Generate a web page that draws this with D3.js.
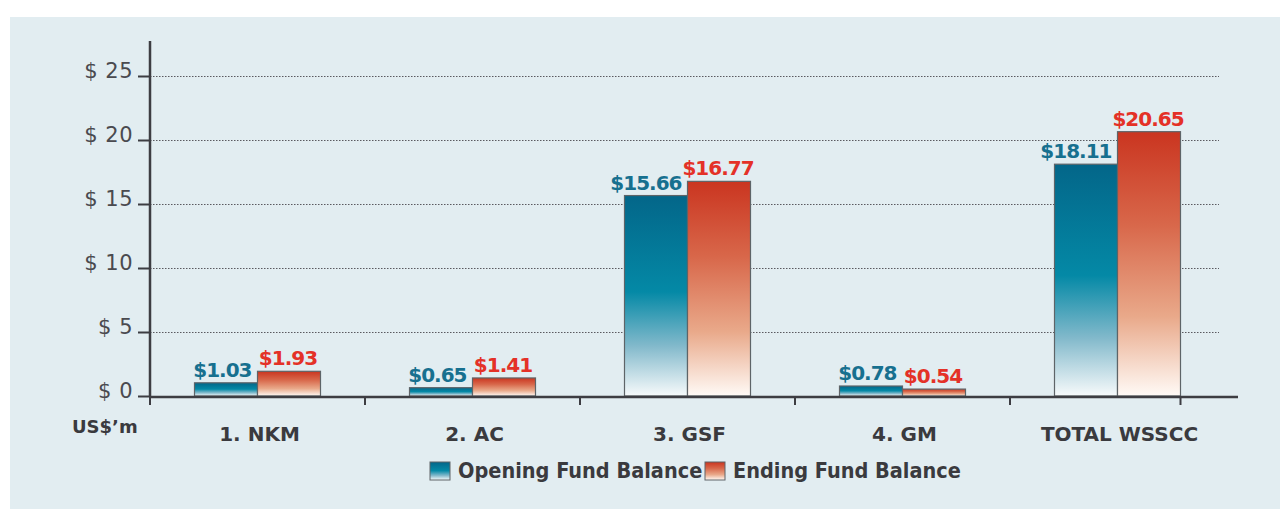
<!DOCTYPE html>
<html lang="en">
<head>
<meta charset="UTF-8">
<title>Fund Balance</title>
<script src="https://d3js.org/d3.v7.min.js"></script>
<style>
  body { margin: 0; background: #fff; }
  svg text { font-family: "DejaVu Sans", "Liberation Sans", Arial, sans-serif; }
</style>
</head>
<body>
<script>

// ================== DATA ==================
var categories = ["1. NKM", "2. AC", "3. GSF", "4. GM", "TOTAL WSSCC"];
var seriesNames = ["Opening Fund Balance", "Ending Fund Balance"];
var opening = [1.03, 0.65, 15.66, 0.78, 18.11];
var ending = [1.93, 1.41, 16.77, 0.54, 20.65];
var yTicks = [0, 5, 10, 15, 20, 25];

// ================== CANVAS ==================
var w = 1280, h = 509;
var svg = d3.select("body").append("svg")
    .attr("width", w)
    .attr("height", h);

svg.append("rect")
    .attr("x", 10).attr("y", 17)
    .attr("width", w - 10).attr("height", h - 17)
    .attr("fill", "#e2edf1");

// gradients
var defs = svg.append("defs");
var gBlue = defs.append("linearGradient").attr("id", "gBlue")
    .attr("x1", 0).attr("y1", 0).attr("x2", 0).attr("y2", 1);
gBlue.append("stop").attr("offset", "0%").attr("stop-color", "#036689");
gBlue.append("stop").attr("offset", "48%").attr("stop-color", "#0489a6");
gBlue.append("stop").attr("offset", "75%").attr("stop-color", "#82b9cb");
gBlue.append("stop").attr("offset", "100%").attr("stop-color", "#f7fafb");

var gRed = defs.append("linearGradient").attr("id", "gRed")
    .attr("x1", 0).attr("y1", 0).attr("x2", 0).attr("y2", 1);
gRed.append("stop").attr("offset", "0%").attr("stop-color", "#ca3520");
gRed.append("stop").attr("offset", "35%").attr("stop-color", "#d8674a");
gRed.append("stop").attr("offset", "70%").attr("stop-color", "#e9a98a");
gRed.append("stop").attr("offset", "100%").attr("stop-color", "#fffaf6");

var fills = ["url(#gBlue)", "url(#gRed)"];
var labelColors = ["#17708f", "#e43127"];

// ================== SCALES ==================
var x = d3.scaleBand().domain(categories).range([150, 1225]);
var xSub = d3.scaleBand().domain(seriesNames).range([-63, 63]);
var y = d3.scaleLinear().domain([0, 25]).range([396, 76]);

// grid lines
var grid = svg.append("g")
    .attr("transform", "translate(150,0)")
    .call(d3.axisLeft(y).tickValues(yTicks.slice(1)).tickSize(-1069).tickFormat(""));
grid.select(".domain").remove();
grid.selectAll("line")
    .attr("stroke", "#5a5a60")
    .attr("stroke-width", 1.2)
    .attr("stroke-dasharray", "1.5,1.5");

// y axis
var yAxis = svg.append("g")
    .attr("transform", "translate(150,0)")
    .call(d3.axisLeft(y).tickValues(yTicks).tickSize(12).tickPadding(5)
        .tickFormat(function(d){ return "$ " + d; }));
yAxis.select(".domain").remove();
yAxis.selectAll("line").attr("stroke", "#3d3d42").attr("stroke-width", 2);
yAxis.selectAll("text")
    .attr("dy", "1")
    .attr("fill", "#4a4a4f")
    .style("font-size", "21px")
    .style("letter-spacing", "0.5px")
    .style("font-family", "'DejaVu Sans', sans-serif");

svg.append("line")
    .attr("x1", 150).attr("x2", 150)
    .attr("y1", 41).attr("y2", 397)
    .attr("stroke", "#3d3d42").attr("stroke-width", 2.5);

// ================== BARS ==================
var rows = categories.map(function(c, i){
    return [
        { cat: c, key: seriesNames[0], value: opening[i], s: 0 },
        { cat: c, key: seriesNames[1], value: ending[i], s: 1 }
    ];
});

var groups = svg.selectAll(".grp")
    .data(rows)
    .enter().append("g")
    .attr("class", "grp")
    .attr("transform", function(d){
        return "translate(" + (x(d[0].cat) + x.bandwidth() / 2) + ",0)";
    });

groups.selectAll("rect")
    .data(function(d){ return d; })
    .enter().append("rect")
    .attr("x", function(d){ return xSub(d.key); })
    .attr("width", xSub.bandwidth())
    .attr("y", function(d){ return y(d.value); })
    .attr("height", function(d){ return y(0) - y(d.value); })
    .attr("fill", function(d){ return fills[d.s]; })
    .attr("stroke", "#5e6468")
    .attr("stroke-width", 1.2);

// opening labels end just left of the ending bar, ending labels centred
groups.selectAll(".val")
    .data(function(d){ return d; })
    .enter().append("text")
    .attr("class", "val")
    .attr("x", function(d){
        return d.s === 0 ? xSub(d.key) + xSub.bandwidth() - 6
                         : xSub(d.key) + xSub.bandwidth() / 2 - 1;
    })
    .attr("y", function(d){ return y(d.value) - 6; })
    .attr("text-anchor", function(d){ return d.s === 0 ? "end" : "middle"; })
    .attr("fill", function(d){ return labelColors[d.s]; })
    .style("font-size", "20px")
    .style("font-weight", "bold")
    .style("letter-spacing", "-1px")
    .text(function(d){ return "$" + d.value.toFixed(2); });

// ================== X AXIS ==================
svg.append("line")
    .attr("x1", 150).attr("x2", 1238)
    .attr("y1", 397).attr("y2", 397)
    .attr("stroke", "#3d3d42").attr("stroke-width", 2.5);

var tickXs = categories.map(function(c){ return x(c); });
tickXs.push(x(categories[categories.length - 1]) + x.bandwidth() / 2 + xSub.range()[1]);
svg.selectAll(".xtick")
    .data(tickXs)
    .enter().append("line")
    .attr("class", "xtick")
    .attr("x1", function(d){ return d; }).attr("x2", function(d){ return d; })
    .attr("y1", 397).attr("y2", 405)
    .attr("stroke", "#3d3d42").attr("stroke-width", 2);

svg.selectAll(".xlab")
    .data(categories)
    .enter().append("text")
    .attr("class", "xlab")
    .attr("x", function(d){ return x(d) + x.bandwidth() / 2 + 2; })
    .attr("y", 441)
    .attr("text-anchor", "middle")
    .attr("fill", "#3a3a3e")
    .style("font-size", "20px")
    .style("font-weight", "bold")
    .text(function(d){ return d; });

svg.append("text")
    .attr("x", 72).attr("y", 433)
    .attr("fill", "#3a3a3e")
    .style("font-size", "18px")
    .style("font-weight", "bold")
    .text("US$\u2019m");

// ================== LEGEND ==================
var legX = [430, 705];
var legend = svg.selectAll(".leg")
    .data(seriesNames)
    .enter().append("g")
    .attr("class", "leg")
    .attr("transform", function(d, i){ return "translate(" + legX[i] + ",462)"; });
legend.append("rect")
    .attr("width", 20).attr("height", 18)
    .attr("fill", function(d, i){ return fills[i]; })
    .attr("stroke", "#5e6468").attr("stroke-width", 1);
legend.append("text")
    .attr("x", 28).attr("y", 16)
    .attr("fill", "#3a3a3e")
    .style("font-size", "21.5px")
    .style("font-weight", "bold")
    .style("font-family", "'DejaVu Sans Condensed', 'DejaVu Sans', sans-serif")
    .style("font-stretch", "condensed")
    .text(function(d){ return d; });

</script>
</body>
</html>
